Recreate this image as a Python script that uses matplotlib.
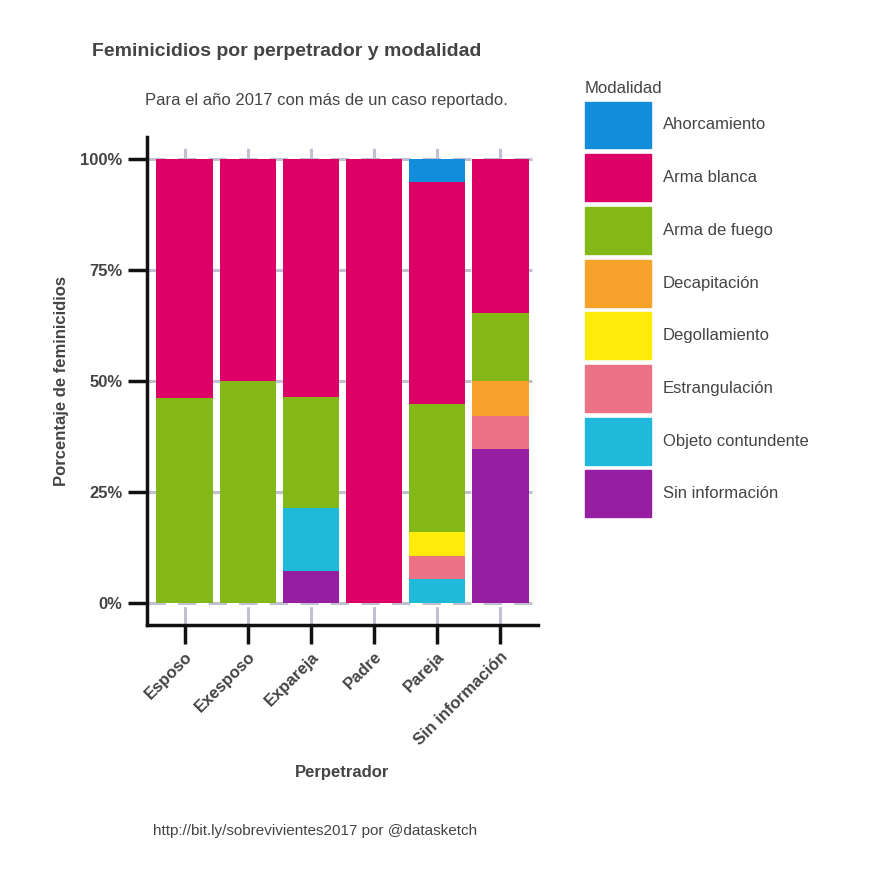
import matplotlib
matplotlib.use("Agg")
import matplotlib.pyplot as plt
import numpy as np
from matplotlib.patches import Patch
from matplotlib.ticker import FuncFormatter

plt.rcParams['font.family'] = ['Liberation Sans', 'DejaVu Sans']

perpetradores = ["Esposo", "Exesposo", "Expareja", "Padre", "Pareja", "Sin información"]
modalidades = ["Sin información", "Objeto contundente", "Estrangulación", "Degollamiento",
               "Decapitación", "Arma de fuego", "Arma blanca", "Ahorcamiento"]
colores = {"Ahorcamiento": "#118ddc", "Arma blanca": "#dd0067", "Arma de fuego": "#84b819",
           "Decapitación": "#f7a22a", "Degollamiento": "#ffeb0a", "Estrangulación": "#ec7285",
           "Objeto contundente": "#1fbad9", "Sin información": "#961ea0"}
valores = {
    "Sin información":    [0, 0, 7.1, 0, 0, 34.7],
    "Objeto contundente": [0, 0, 14.3, 0, 5.3, 0],
    "Estrangulación":     [0, 0, 0, 0, 5.3, 7.4],
    "Degollamiento":      [0, 0, 0, 0, 5.3, 0],
    "Decapitación":       [0, 0, 0, 0, 0, 7.9],
    "Arma de fuego":      [46.2, 50, 25.0, 0, 28.9, 15.3],
    "Arma blanca":        [53.8, 50, 53.6, 100, 50.0, 34.7],
    "Ahorcamiento":       [0, 0, 0, 0, 5.2, 0],
}

fig = plt.figure(figsize=(8.85, 8.85), dpi=100)
ax = fig.add_axes([147/885, 1-625/885, (538-147)/885, (625-137)/885])
x = np.arange(len(perpetradores))
bottom = np.zeros(len(perpetradores))
for m in modalidades:
    v = np.array(valores[m]) / 100
    ax.bar(x, v, bottom=bottom, width=0.9, color=colores[m], zorder=3)
    bottom += v

ax.set_xlim(-0.6, 5.6)
ax.set_ylim(-0.05, 1.05)
ax.set_yticks([0, .25, .5, .75, 1])
ax.yaxis.set_major_formatter(FuncFormatter(lambda v, p: f"{int(round(v*100))}%"))
ax.set_xticks(x)
ax.set_xticklabels(perpetradores, rotation=45, ha="right", rotation_mode="anchor",
                   fontsize=12, fontweight="bold", color="#444444")
for t in ax.get_yticklabels():
    t.set_fontsize(12); t.set_fontweight("bold"); t.set_color("#444444")
ax.grid(True, color="#c0c0d0", linestyle=(0, (6, 4)), linewidth=2.2, zorder=0)
for s in ["top", "right"]:
    ax.spines[s].set_visible(False)
for s in ["left", "bottom"]:
    ax.spines[s].set_linewidth(2.5); ax.spines[s].set_color("#111111")
ax.tick_params(width=2.5, length=14, color="#111111")
ax.set_ylabel("Porcentaje de feminicidios", fontsize=12, fontweight="bold", color="#444444",
              labelpad=8)
ax.set_xlabel("Perpetrador", fontsize=12, fontweight="bold", color="#444444", labelpad=12)

fig.text(92/885, 1-52/885, "Feminicidios por perpetrador y modalidad", fontsize=14,
         fontweight="bold", color="#444444", va="center")
fig.text(145/885, 1-101/885, "Para el año 2017 con más de un caso reportado.", fontsize=12,
         color="#444444", va="center")
fig.text(315/885, 1-831/885, "http://bit.ly/sobrevivientes2017 por @datasketch", fontsize=11,
         color="#444444", ha="center", va="center")

handles = [Patch(color=colores[m], label=m) for m in reversed(modalidades)]
leg = fig.legend(handles=handles, loc="upper left", bbox_to_anchor=(578/885, 1-74/885),
                 frameon=False, title="Modalidad", fontsize=12, title_fontsize=12,
                 handlelength=4.0, handleheight=3.95, labelspacing=0.35, handletextpad=0.7,
                 alignment="left", borderaxespad=0)
for t in leg.get_texts():
    t.set_color("#444444")
leg.get_title().set_color("#444444")
fig.savefig("out.png", dpi=100)
